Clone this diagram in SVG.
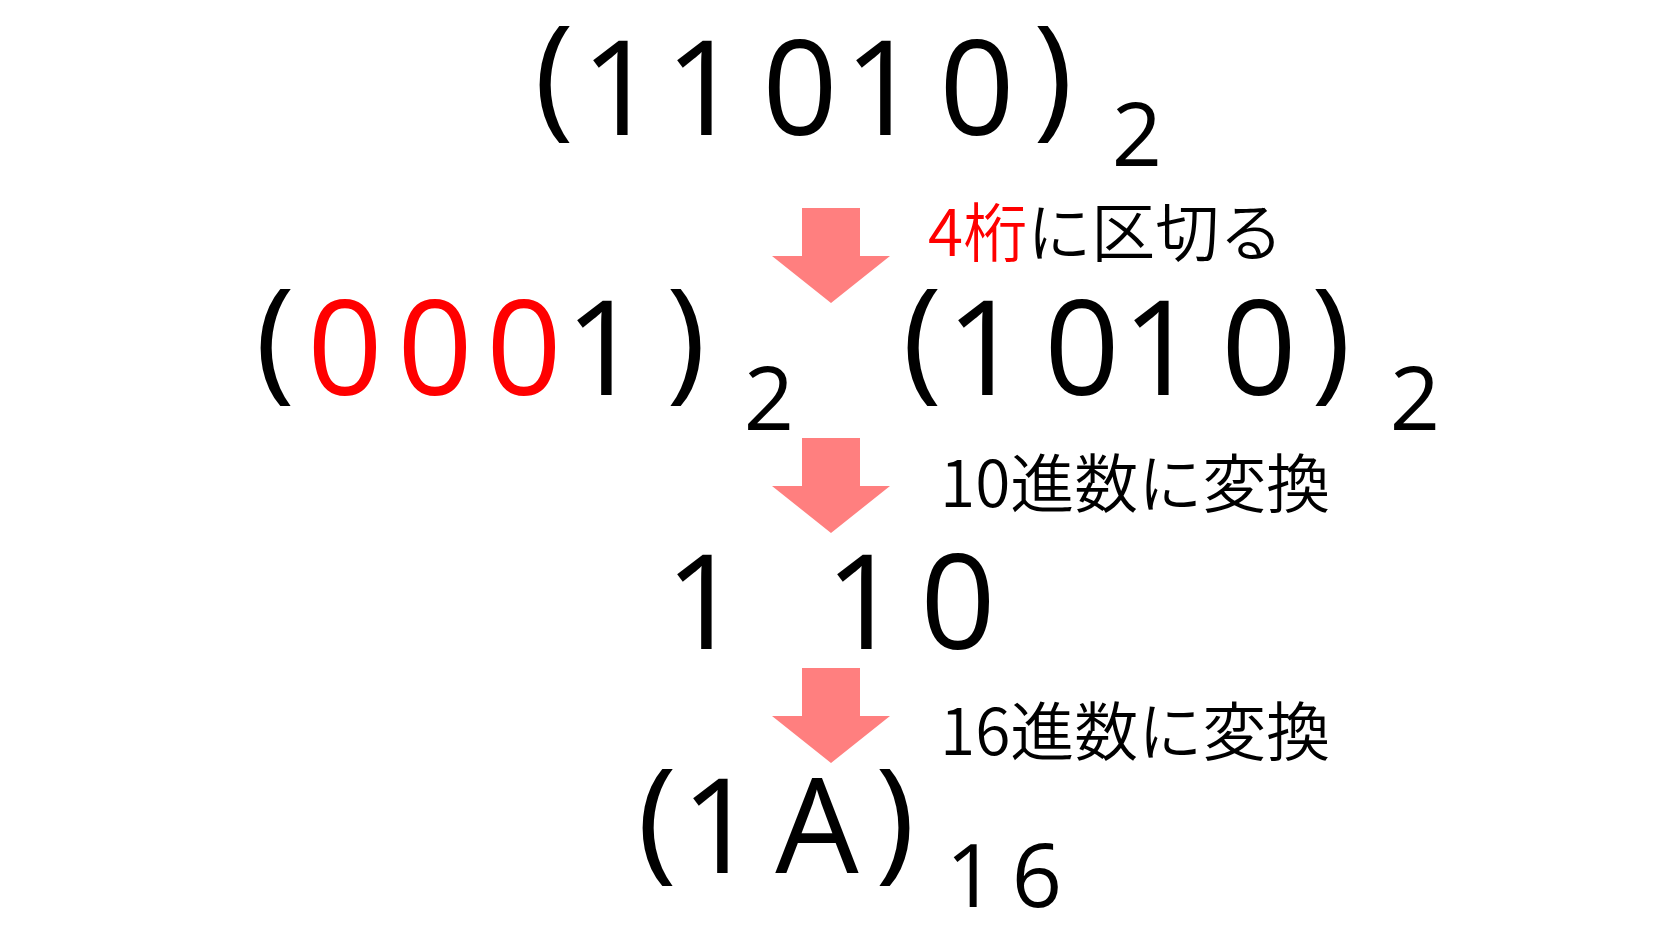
<svg xmlns="http://www.w3.org/2000/svg" width="1667" height="938" viewBox="0 0 1667 938">
<style>
.big{font-family:"Open Sans","Noto Sans",sans-serif;font-weight:400;font-size:132px;fill:#000;text-anchor:middle}
.paren{font-size:134px}
.sub{font-family:"Open Sans","Noto Sans",sans-serif;font-weight:400;font-size:88px;fill:#000;text-anchor:middle}
.red{fill:#FF0000}
.lbl{font-family:"Noto Sans CJK JP","Noto Sans",sans-serif;font-weight:350;font-size:64px;fill:#000}
.arrow{fill:#FF7F7F}
</style>
<defs>
<path id="arr" d="M802,0 H860 V48 H890 L831,95 L772,48 H802 Z"/>
</defs>
<rect width="1667" height="938" fill="#fff"/>
<g id="row1">
<text class="big"><tspan class="paren" x="554" y="122">(</tspan><tspan x="619" y="135">1</tspan><tspan x="703" y="135">1</tspan><tspan x="800" y="135">0</tspan><tspan x="882" y="135">1</tspan><tspan x="977" y="135">0</tspan><tspan class="paren" x="1053" y="122">)</tspan></text>
<text class="sub" x="1137" y="166">2</text>
</g>
<g id="row2-left">
<text class="big"><tspan class="paren" x="275" y="385">(</tspan><tspan class="red" x="345" y="395">0</tspan><tspan class="red" x="435" y="395">0</tspan><tspan class="red" x="524" y="395">0</tspan><tspan x="603" y="395">1</tspan><tspan class="paren" x="686" y="385">)</tspan></text>
<text class="sub" x="769" y="430">2</text>
</g>
<g id="row2-right">
<text class="big"><tspan class="paren" x="922" y="385">(</tspan><tspan x="984" y="395">1</tspan><tspan x="1082" y="395">0</tspan><tspan x="1160" y="395">1</tspan><tspan x="1259" y="395">0</tspan><tspan class="paren" x="1331" y="385">)</tspan></text>
<text class="sub" x="1415" y="430">2</text>
</g>
<g id="row3">
<text class="big"><tspan x="703" y="649">1</tspan><tspan x="863" y="649">1</tspan><tspan x="958" y="649">0</tspan></text>
</g>
<g id="row4">
<text class="big"><tspan class="paren" x="657" y="865">(</tspan><tspan x="719" y="873">1</tspan><tspan x="817" y="873">A</tspan><tspan class="paren" x="895" y="865">)</tspan></text>
<text class="sub"><tspan x="971" y="907">1</tspan><tspan x="1037" y="907">6</tspan></text>
</g>
<g id="connectors">
<use href="#arr" class="arrow" y="208"/>
<use href="#arr" class="arrow" y="438"/>
<use href="#arr" class="arrow" y="668"/>
</g>
<g id="label1">
<text class="lbl" x="928" y="256"><tspan class="red">4桁</tspan>に区切る</text>
</g>
<g id="label2">
<text class="lbl" x="940" y="507">10進数に変換</text>
</g>
<g id="label3">
<text class="lbl" x="940" y="755">16進数に変換</text>
</g>
</svg>
